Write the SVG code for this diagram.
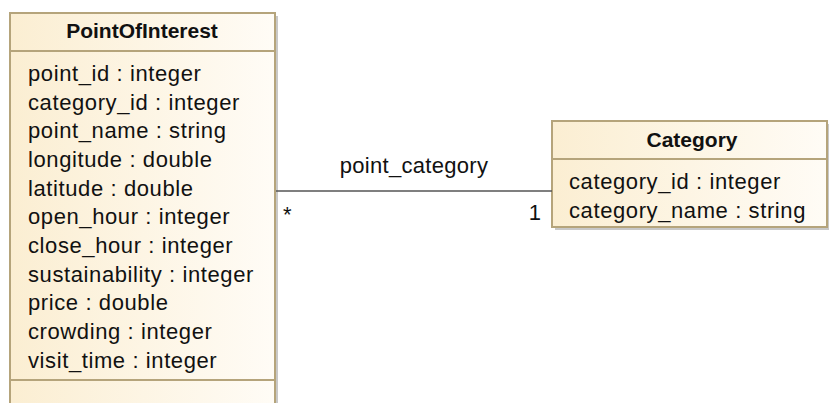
<svg xmlns="http://www.w3.org/2000/svg" width="829" height="403" viewBox="0 0 829 403">
<defs>
<linearGradient id="fill" x1="0" y1="0" x2="1" y2="0">
<stop offset="0" stop-color="#fbeed2"/>
<stop offset="1" stop-color="#fffcf6"/>
</linearGradient>
</defs>
<style>
.shadow{fill:#c8c8c8}
.box{fill:url(#fill);stroke:#b5a47b;stroke-width:2}
.sep{stroke:#b5a47b;stroke-width:2}
.title{font-family:"Liberation Sans",Arial,sans-serif;font-weight:bold;font-size:21px;fill:#111;text-anchor:middle}
.attr{font-family:"Liberation Sans",Arial,sans-serif;font-size:22px;fill:#111;letter-spacing:0.6px}
.lbl{font-family:"Liberation Sans",Arial,sans-serif;font-size:22px;fill:#111;letter-spacing:0.3px}
.conn{stroke:#555;stroke-width:1.6;fill:none}
</style>
<g id="PointOfInterest">
<rect class="shadow" x="13" y="16" width="265" height="400"/>
<rect class="box" x="10" y="13" width="265" height="400"/>
<line class="sep" x1="10" y1="51" x2="275" y2="51"/>
<line class="sep" x1="10" y1="380" x2="275" y2="380"/>
<text class="title" x="142" y="38">PointOfInterest</text>
<text class="attr" x="28" y="81">point_id : integer</text>
<text class="attr" x="28" y="110">category_id : integer</text>
<text class="attr" x="28" y="138">point_name : string</text>
<text class="attr" x="28" y="167">longitude : double</text>
<text class="attr" x="28" y="196">latitude : double</text>
<text class="attr" x="28" y="224">open_hour : integer</text>
<text class="attr" x="28" y="253">close_hour : integer</text>
<text class="attr" x="28" y="282">sustainability : integer</text>
<text class="attr" x="28" y="310">price : double</text>
<text class="attr" x="28" y="339">crowding : integer</text>
<text class="attr" x="28" y="368">visit_time : integer</text>
</g>
<g id="Category">
<rect class="shadow" x="555" y="124" width="275" height="106"/>
<rect class="box" x="552" y="121" width="275" height="106"/>
<line class="sep" x1="552" y1="159" x2="827" y2="159"/>
<text class="title" x="692" y="147">Category</text>
<text class="attr" x="569" y="189">category_id : integer</text>
<text class="attr" x="569" y="218">category_name : string</text>
</g>
<g id="connectors">
<line class="conn" x1="276" y1="191" x2="552" y2="191"/>
<text class="lbl" x="414" y="173" text-anchor="middle">point_category</text>
<text class="lbl" x="283" y="222">*</text>
<text class="lbl" x="535" y="220" text-anchor="middle">1</text>
</g>
</svg>
